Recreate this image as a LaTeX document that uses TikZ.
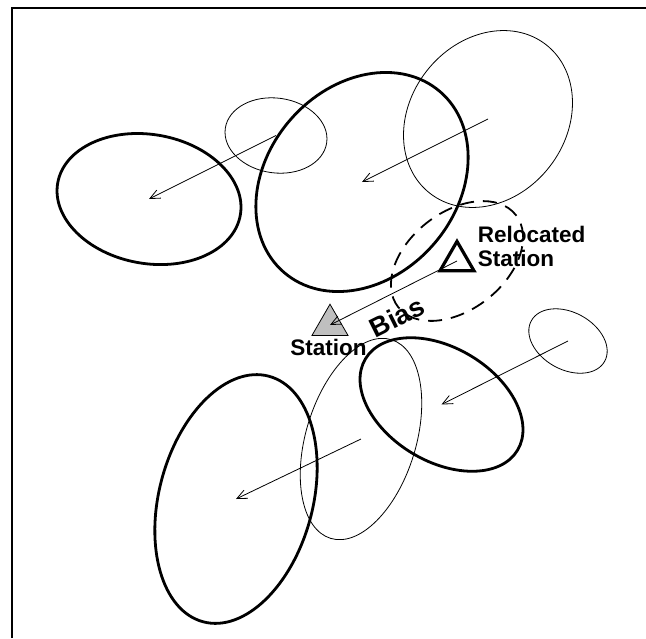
\documentclass[tikz,border=0pt]{standalone}
\usepackage{fontspec}
\setmainfont{Liberation Sans}
\usetikzlibrary{arrows.meta}
\begin{document}
\begin{tikzpicture}[x=1pt,y=-1pt,
  thickell/.style={line width=2.8pt},
  thinell/.style={line width=0.8pt},
  dashell/.style={line width=1.8pt, dash pattern=on 14pt off 9pt},
  shiftarrow/.style={line width=0.8pt, -{Straight Barb[length=10pt,width=9pt]}},
  lbl/.style={font=\fontsize{22.5}{24.3}\selectfont\bfseries, inner sep=0pt},
  framel/.style={line width=1.4pt},
]
\useasboundingbox (0,0) rectangle (646,638);
\draw[framel] (12,638) -- (12,8) -- (646,8);

% centres
\coordinate (cT1) at (149,199);
\coordinate (ct1) at (276,135.5);
\coordinate (cT2) at (362,182);
\coordinate (ct2) at (488,119);
\coordinate (cT3) at (236,499);
\coordinate (ct3) at (361,439);
\coordinate (cT4) at (441.5,404.5);
\coordinate (ct4) at (568,341);
\coordinate (st) at (330,325);
\coordinate (rs) at (457,261);

% ellipses
\draw[thickell, rotate around={-10:(cT1)}] (cT1) ellipse [x radius=92.7pt, y radius=64.5pt];
\draw[thinell, rotate around={-8:(ct1)}] (ct1) ellipse [x radius=51.2pt, y radius=37.4pt];
\draw[thickell, rotate around={49:(cT2)}] (cT2) ellipse [x radius=119.4pt, y radius=94.9pt];
\draw[thinell, rotate around={52:(ct2)}] (ct2) ellipse [x radius=94.3pt, y radius=77.9pt];
\draw[dashell, rotate around={38:(rs)}] (rs) ellipse [x radius=74.7pt, y radius=48.7pt];
\draw[thickell, rotate around={75:(cT3)}] (cT3) ellipse [x radius=127.1pt, y radius=76.8pt];
\draw[thinell, rotate around={73:(ct3)}] (ct3) ellipse [x radius=103.9pt, y radius=55pt];
\draw[thickell, rotate around={-31:(cT4)}] (cT4) ellipse [x radius=88.7pt, y radius=56.8pt];
\draw[thinell, rotate around={-29:(ct4)}] (ct4) ellipse [x radius=41.9pt, y radius=28.6pt];

% stations
\draw[shift={(st)}, fill=black!25, line width=0.8pt] (0,-20.8) -- (18,10.4) -- (-18,10.4) -- cycle;
\draw[shift={(rs)}, line width=3.2pt] (0,-19.6) -- (17,9.8) -- (-17,9.8) -- cycle;

% shift arrows
\draw[shiftarrow] (ct1) -- (cT1);
\draw[shiftarrow] (ct2) -- (cT2);
\draw[shiftarrow] (ct3) -- (cT3);
\draw[shiftarrow] (ct4) -- (cT4);
\draw[shiftarrow] (rs) -- (st);

% labels
\node[lbl, anchor=base] (stlab) at (328.5,355) {Station};
\node[lbl, align=left, anchor=north west] (rlab) at (477.7,226) {Relocated\\Station};
\node[font=\fontsize{27}{27}\selectfont\bfseries, inner sep=0pt, rotate=26.5] (bias) at (397,317) {Bias};
\end{tikzpicture}
\end{document}
